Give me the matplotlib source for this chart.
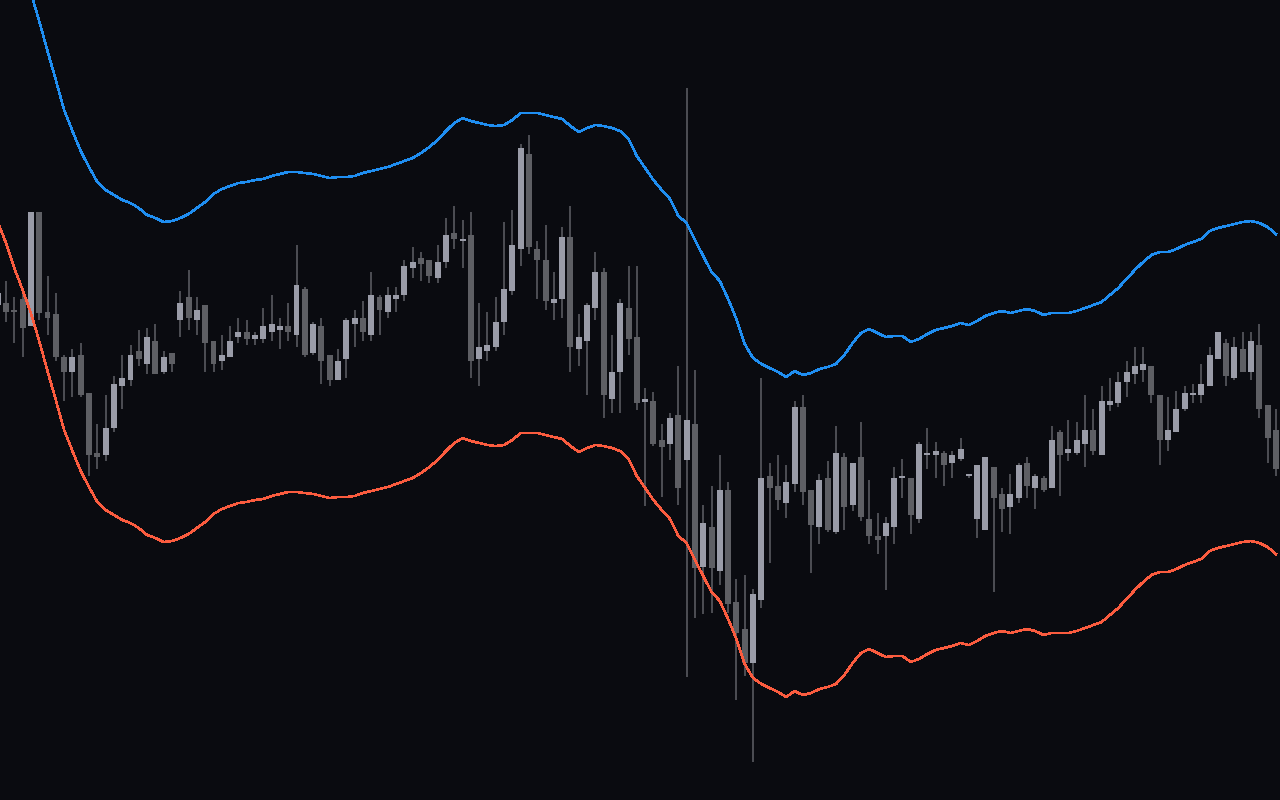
import matplotlib
matplotlib.use('Agg')
import matplotlib.pyplot as plt
import numpy as np

# OHLC per candle (price units)
opens = [495, 497, 490, 501, 474, 588, 488, 486, 443, 428, 445, 407, 347, 345, 372, 414, 420, 449, 436, 459,
         428, 447, 480, 503, 480, 495, 459, 439, 443, 463, 468, 461, 461, 468, 470, 474, 465, 511, 447, 474,
         445, 420, 441, 476, 482, 465, 503, 488, 501, 505, 532, 542, 540, 522, 538, 567, 559, 565, 441, 449,
         453, 478, 509, 551, 646, 551, 540, 497, 501, 563, 451, 459, 492, 528, 401, 428, 492, 463, 398, 399,
         360, 356, 385, 340, 376, 233, 273, 229, 310, 198, 171, 137, 200, 324, 314, 297, 316, 393, 310, 273,
         322, 268, 343, 295, 343, 281, 264, 264, 273, 322, 322, 281, 345, 345, 347, 337, 341, 324, 281, 270,
         333, 306, 293, 302, 337, 312, 322, 312, 368, 347, 347, 356, 370, 345, 395, 397, 418, 426, 430, 434,
         405, 360, 368, 391, 405, 405, 414, 441, 457, 422, 451, 428, 455, 395, 370]
highs = [520, 519, 503, 507, 588, 588, 524, 507, 445, 451, 457, 407, 376, 405, 424, 445, 455, 470, 472, 476,
         449, 447, 509, 530, 503, 495, 459, 465, 474, 482, 480, 468, 492, 505, 482, 497, 555, 513, 478, 482,
         445, 451, 482, 490, 499, 528, 505, 513, 513, 540, 553, 548, 540, 555, 582, 594, 580, 588, 497, 488,
         503, 578, 590, 656, 665, 559, 575, 528, 573, 594, 486, 497, 548, 532, 465, 501, 534, 534, 412, 408,
         376, 387, 434, 712, 430, 295, 314, 345, 318, 221, 225, 211, 422, 337, 345, 335, 399, 405, 310, 326,
         339, 374, 347, 337, 378, 320, 287, 283, 333, 341, 322, 358, 372, 358, 349, 349, 362, 326, 335, 343,
         333, 312, 326, 337, 343, 326, 324, 374, 370, 380, 378, 405, 391, 414, 422, 428, 439, 453, 453, 434,
         405, 403, 409, 414, 416, 436, 453, 468, 461, 463, 468, 468, 476, 395, 391]
lows = [480, 478, 457, 443, 474, 480, 465, 439, 399, 403, 403, 324, 331, 339, 368, 391, 414, 434, 426, 426,
        426, 428, 463, 470, 465, 428, 428, 430, 443, 457, 455, 455, 457, 459, 451, 459, 453, 443, 445, 416,
        414, 420, 422, 453, 459, 459, 465, 482, 488, 499, 522, 519, 517, 517, 532, 551, 532, 422, 414, 439,
        449, 465, 505, 534, 546, 501, 490, 480, 482, 428, 434, 405, 480, 382, 387, 387, 445, 390, 294, 354,
        303, 340, 295, 123, 182, 186, 187, 215, 187, 100, 124, 38, 192, 237, 290, 282, 308, 295, 227, 256,
        268, 266, 270, 289, 279, 256, 246, 210, 256, 302, 266, 277, 331, 322, 314, 322, 339, 322, 262, 270,
        208, 268, 266, 297, 302, 291, 308, 312, 304, 339, 345, 333, 345, 345, 389, 393, 403, 416, 418, 397,
        335, 349, 368, 389, 397, 397, 414, 441, 414, 420, 428, 420, 382, 337, 324]
closes = [507, 488, 488, 472, 588, 487, 482, 443, 428, 443, 405, 345, 343, 372, 416, 422, 445, 441, 463, 426,
          443, 436, 497, 482, 490, 457, 436, 445, 459, 468, 461, 465, 474, 476, 474, 468, 515, 445, 476, 439,
          420, 439, 480, 482, 468, 505, 490, 505, 505, 534, 538, 536, 524, 538, 565, 561, 561, 439, 453, 455,
          478, 511, 555, 652, 553, 540, 499, 501, 563, 453, 463, 495, 528, 405, 428, 497, 461, 397, 401, 356,
          353, 382, 312, 380, 232, 277, 232, 310, 196, 167, 137, 206, 322, 312, 300, 318, 393, 308, 275, 320,
          270, 347, 293, 337, 283, 264, 260, 277, 322, 324, 285, 356, 347, 349, 335, 345, 351, 326, 335, 343,
          302, 291, 306, 335, 314, 324, 310, 360, 345, 351, 360, 370, 349, 399, 399, 418, 428, 434, 436, 405,
          360, 370, 391, 407, 407, 416, 445, 468, 424, 453, 428, 459, 391, 362, 331]

# channel middle line and half width
band_mid = [738, 717, 692, 670, 647, 619, 589, 560, 530, 509, 489, 473, 458, 450, 445, 440, 437, 432, 425, 422,
            418, 419, 422, 426, 432, 438, 446, 451, 454, 457, 458, 460, 461, 464, 466, 468, 468, 467, 466, 464,
            462, 463, 463, 464, 467, 469, 471, 473, 476, 479, 482, 487, 493, 500, 509, 517, 522, 519, 517, 515,
            514, 515, 520, 527, 527, 527, 525, 523, 521, 514, 508, 512, 515, 514, 512, 509, 501, 484, 472, 460,
            450, 441, 424, 417, 400, 384, 368, 359, 341, 321, 296, 282, 276, 272, 268, 263, 269, 265, 267, 271,
            273, 276, 285, 297, 307, 311, 307, 303, 304, 304, 298, 301, 306, 310, 312, 314, 317, 315, 319, 324,
            327, 329, 327, 329, 331, 329, 325, 327, 327, 327, 329, 332, 335, 338, 345, 352, 361, 370, 378, 385,
            388, 388, 391, 395, 398, 401, 409, 412, 414, 416, 418, 419, 417, 413, 406]
band_half = 160

opens = np.array(opens, dtype=float)
highs = np.array(highs, dtype=float)
lows = np.array(lows, dtype=float)
closes = np.array(closes, dtype=float)
band_mid = np.array(band_mid, dtype=float)
idx = np.arange(len(opens))

bg = '#0a0b10'
up_col = '#9a9ca8'
down_col = '#5e5f64'
wick_col = '#4b4c52'

fig = plt.figure(figsize=(12.8, 8), dpi=100, facecolor=bg)
ax = fig.add_axes([0, 0, 1, 1])
ax.set_facecolor(bg)

# wicks
ax.vlines(idx, lows, highs, colors=wick_col, linewidth=1.2, antialiased=False, zorder=1)

# bodies, keep a minimal height for doji candles
up = closes >= opens
body_low = np.minimum(opens, closes)
body_h = np.maximum(np.abs(closes - opens), 1.6)
ax.bar(idx, body_h, bottom=body_low, width=0.72,
       color=np.where(up, up_col, down_col), linewidth=0, antialiased=False, zorder=2)

# channel lines
ax.plot(idx, band_mid + band_half, color='#1f8ef1', linewidth=1.1, antialiased=False, zorder=3)
ax.plot(idx, band_mid - band_half, color='#fb5c3f', linewidth=1.1, antialiased=False, zorder=3)

ax.set_xlim(0.277, 154.49)
ax.set_ylim(0, 800)
ax.axis('off')

fig.savefig('out.png', dpi=100, facecolor=bg)
